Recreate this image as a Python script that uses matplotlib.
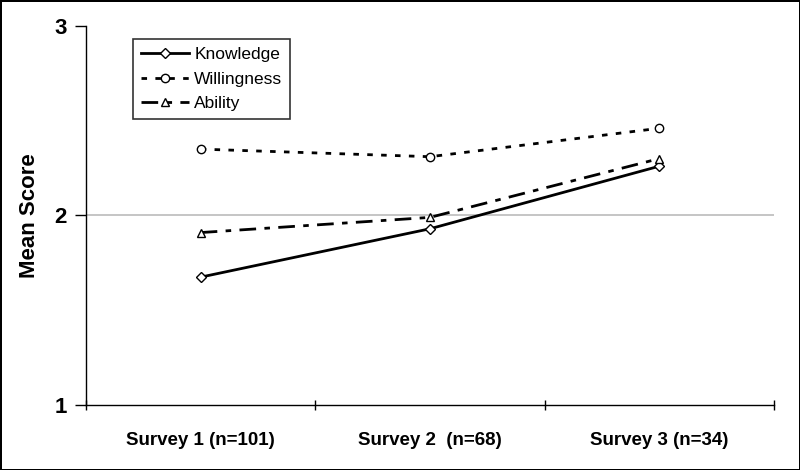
import matplotlib
matplotlib.use("Agg")
from matplotlib import pyplot as plt

plt.rcParams["font.family"] = ["Liberation Sans", "DejaVu Sans"]

surveys = ["Survey 1 (n=101)", "Survey 2  (n=68)", "Survey 3 (n=34)"]
knowledge = [1.675, 1.93, 2.26]
willingness = [2.35, 2.31, 2.46]
ability = [1.91, 1.99, 2.30]

x = [i + 0.5 for i in range(len(surveys))]

fig = plt.figure(figsize=(8, 4.7), dpi=100)
fig.patch.set_edgecolor("black")
fig.patch.set_linewidth(2)
ax = fig.add_axes([0.1075, 0.138, 0.86, 0.807])

ax.axhline(2, color="#bbbbbb", lw=1.2, zorder=0)

ax.plot(x, knowledge, color="black", lw=2, ls="-", marker="D", ms=5,
        mfc="white", mec="black", mew=1, label="Knowledge")
ax.plot(x, willingness, color="black", lw=2, ls=(0, (2, 3)), marker="o", ms=6,
        mfc="white", mec="black", mew=1, label="Willingness")
ax.plot(x, ability, color="black", lw=2, ls=(0, (6, 3, 2, 3)), marker="^", ms=6,
        mfc="white", mec="black", mew=1, label="Ability")

ax.set_xlim(0, 3)
ax.set_ylim(1, 3)
ax.set_xticks([0, 1, 2, 3])
ax.set_xticklabels([])
ax.set_xticks(x, minor=True)
ax.set_xticklabels(surveys, minor=True, fontsize=13.5, fontweight="bold")
ax.tick_params(axis="x", which="minor", length=0, pad=19)
ax.tick_params(axis="x", which="major", length=7, direction="inout", width=1)
ax.set_yticks([1, 2, 3])
ax.set_yticklabels(["1", "2", "3"], fontsize=16, fontweight="bold")
ax.tick_params(axis="y", length=8, width=1, direction="out", pad=6)

for side in ["top", "right"]:
    ax.spines[side].set_visible(False)
ax.spines["left"].set_linewidth(1)
ax.spines["bottom"].set_linewidth(1)

ax.set_ylabel("Mean Score", fontsize=16, fontweight="bold", labelpad=10)

leg = ax.legend(loc="upper left", bbox_to_anchor=(0.068, 0.965), fontsize=12.5,
                frameon=True, fancybox=False, edgecolor="black", handlelength=2.8,
                borderpad=0.45, labelspacing=0.55, handletextpad=0.3, borderaxespad=0)
leg.get_frame().set_linewidth(1.2)

fig.savefig("out.png", dpi=100, edgecolor=fig.get_edgecolor())
